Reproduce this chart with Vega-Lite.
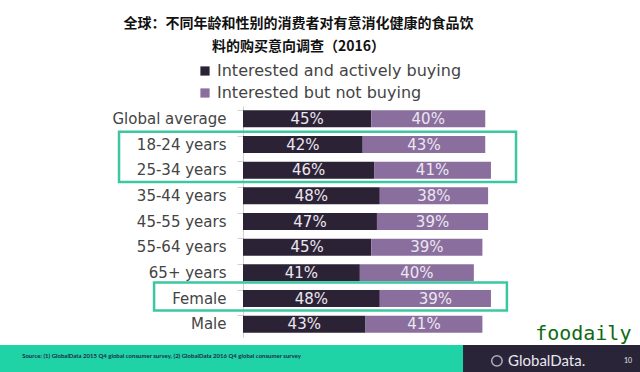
{
  "$schema": "https://vega.github.io/schema/vega-lite/v6.json",
  "autosize": {"type": "none"},
  "width": 285,
  "height": 231,
  "padding": {"left": 243, "top": 106, "right": 112, "bottom": 35},
  "background": "white",
  "config": {"view": {"stroke": null}, "font": "DejaVu Sans"},
  "title": {
    "text": ["全球：不同年龄和性别的消费者对有意消化健康的食品饮", "料的购买意向调查（2016）"],
    "font": "Noto Sans CJK SC",
    "fontSize": 14,
    "fontWeight": "bold",
    "color": "#111111",
    "anchor": "middle",
    "frame": "group",
    "dx": -87,
    "dy": 1,
    "lineHeight": 23,
    "offset": 10
  },
  "datasets": {
    "bars": [
      {"group": "Global average", "series": "Interested and actively buying", "rank": 1, "value": 45},
      {"group": "Global average", "series": "Interested but not buying", "rank": 2, "value": 40},
      {"group": "18-24 years", "series": "Interested and actively buying", "rank": 1, "value": 42},
      {"group": "18-24 years", "series": "Interested but not buying", "rank": 2, "value": 43},
      {"group": "25-34 years", "series": "Interested and actively buying", "rank": 1, "value": 46},
      {"group": "25-34 years", "series": "Interested but not buying", "rank": 2, "value": 41},
      {"group": "35-44 years", "series": "Interested and actively buying", "rank": 1, "value": 48},
      {"group": "35-44 years", "series": "Interested but not buying", "rank": 2, "value": 38},
      {"group": "45-55 years", "series": "Interested and actively buying", "rank": 1, "value": 47},
      {"group": "45-55 years", "series": "Interested but not buying", "rank": 2, "value": 39},
      {"group": "55-64 years", "series": "Interested and actively buying", "rank": 1, "value": 45},
      {"group": "55-64 years", "series": "Interested but not buying", "rank": 2, "value": 39},
      {"group": "65+ years", "series": "Interested and actively buying", "rank": 1, "value": 41},
      {"group": "65+ years", "series": "Interested but not buying", "rank": 2, "value": 40},
      {"group": "Female", "series": "Interested and actively buying", "rank": 1, "value": 48},
      {"group": "Female", "series": "Interested but not buying", "rank": 2, "value": 39},
      {"group": "Male", "series": "Interested and actively buying", "rank": 1, "value": 43},
      {"group": "Male", "series": "Interested but not buying", "rank": 2, "value": 41}
    ],
    "one": [{}]
  },
  "resolve": {"scale": {"y": "independent", "x": "shared"}, "axis": {"y": "independent"}},
  "layer": [
    {
      "data": {"name": "bars"},
      "transform": [
        {"stack": "value", "groupby": ["group"], "sort": [{"field": "rank", "order": "ascending"}], "as": ["x0", "x1"]}
      ],
      "layer": [
        {
          "mark": {"type": "bar"},
          "encoding": {
            "y": {
              "field": "group", "type": "nominal",
              "sort": ["Global average", "18-24 years", "25-34 years", "35-44 years", "45-55 years", "55-64 years", "65+ years", "Female", "Male"],
              "scale": {"paddingInner": 0.34, "paddingOuter": 0.17},
              "axis": {
                "title": null,
                "labelFont": "DejaVu Sans", "labelFontSize": 15, "labelColor": "#444444",
                "labelPadding": 11, "tickSize": 6, "tickColor": "#d0d0d0", "domainColor": "#d0d0d0",
                "bandPosition": 0, "domainWidth": 1
              }
            },
            "x": {"field": "x0", "type": "quantitative", "scale": {"domain": [0, 100], "nice": false}, "axis": null},
            "x2": {"field": "x1"},
            "color": {
              "field": "series", "type": "nominal",
              "scale": {"domain": ["Interested and actively buying", "Interested but not buying"], "range": ["#2b2335", "#8a6f9e"]},
              "legend": {
                "title": null, "orient": "none", "legendX": -46, "legendY": -43,
                "symbolType": "square", "symbolSize": 85, "symbolStrokeWidth": 0,
                "labelFont": "DejaVu Sans", "labelFontSize": 16, "labelColor": "#444444",
                "labelOffset": 4, "rowPadding": 6, "labelLimit": 400
              }
            }
          }
        },
        {
          "transform": [
            {"calculate": "(datum.x0 + datum.x1) / 2", "as": "xm"},
            {"calculate": "datum.value + '%'", "as": "label"}
          ],
          "mark": {"type": "text", "font": "DejaVu Sans", "fontSize": 15, "color": "#ece6f0", "baseline": "middle"},
          "encoding": {
            "y": {"field": "group", "type": "nominal", "sort": ["Global average", "18-24 years", "25-34 years", "35-44 years", "45-55 years", "55-64 years", "65+ years", "Female", "Male"]},
            "x": {"field": "xm", "type": "quantitative"},
            "text": {"field": "label"}
          }
        }
      ]
    },
    {
      "data": {"name": "one"},
      "mark": {"type": "rect", "fill": null, "stroke": "#3cc6a2", "strokeWidth": 2.5},
      "encoding": {
        "x": {"datum": -43.5, "type": "quantitative"},
        "x2": {"datum": 95.8},
        "y": {"datum": 1.0, "type": "quantitative", "scale": {"domain": [0, 9], "reverse": true, "nice": false, "zero": false}, "axis": null},
        "y2": {"datum": 2.96}
      }
    },
    {
      "data": {"name": "one"},
      "mark": {"type": "rect", "fill": null, "stroke": "#3cc6a2", "strokeWidth": 2.5},
      "encoding": {
        "x": {"datum": -31.2, "type": "quantitative"},
        "x2": {"datum": 92.6},
        "y": {"datum": 6.88, "type": "quantitative", "scale": {"domain": [0, 9], "reverse": true, "nice": false, "zero": false}, "axis": null},
        "y2": {"datum": 7.97}
      }
    },
    {
      "data": {"name": "one"},
      "mark": {"type": "rect", "fill": "#20d3a6"},
      "encoding": {
        "x": {"datum": -90, "type": "quantitative"},
        "x2": {"datum": 77.2},
        "y": {"datum": 9.31, "type": "quantitative", "scale": {"domain": [0, 9], "reverse": true, "nice": false, "zero": false}, "axis": null},
        "y2": {"datum": 10.5}
      }
    },
    {
      "data": {"name": "one"},
      "mark": {"type": "rect", "fill": "#2a2438"},
      "encoding": {
        "x": {"datum": 77.2, "type": "quantitative"},
        "x2": {"datum": 145},
        "y": {"datum": 9.31, "type": "quantitative", "scale": {"domain": [0, 9], "reverse": true, "nice": false, "zero": false}, "axis": null},
        "y2": {"datum": 10.5}
      }
    },
    {
      "data": {"name": "one"},
      "mark": {"type": "text", "text": "Source: (1) GlobalData 2015 Q4 global consumer survey, (2) GlobalData 2016 Q4 global consumer survey", "font": "Lato", "fontSize": 6, "fontWeight": "bold", "color": "#1d2b4a", "align": "left", "baseline": "middle"},
      "encoding": {
        "x": {"datum": -77.5, "type": "quantitative"},
        "y": {"datum": 9.74, "type": "quantitative", "scale": {"domain": [0, 9], "reverse": true, "nice": false, "zero": false}, "axis": null}
      }
    },
    {
      "data": {"name": "one"},
      "mark": {"type": "text", "text": "GlobalData.", "font": "Lato", "fontSize": 15, "color": "#e8e8f0", "align": "left", "baseline": "middle"},
      "encoding": {
        "x": {"datum": 93.0, "type": "quantitative"},
        "y": {"datum": 9.93, "type": "quantitative", "scale": {"domain": [0, 9], "reverse": true, "nice": false, "zero": false}, "axis": null}
      }
    },
    {
      "data": {"name": "one"},
      "mark": {"type": "point", "shape": "circle", "filled": false, "stroke": "#e8e8f0", "strokeWidth": 1.5, "size": 110},
      "encoding": {
        "x": {"datum": 89.1, "type": "quantitative"},
        "y": {"datum": 9.93, "type": "quantitative", "scale": {"domain": [0, 9], "reverse": true, "nice": false, "zero": false}, "axis": null}
      }
    },
    {
      "data": {"name": "one"},
      "mark": {"type": "text", "text": "10", "font": "Lato", "fontSize": 7, "color": "#e8e8f0", "align": "center", "baseline": "middle"},
      "encoding": {
        "x": {"datum": 135.1, "type": "quantitative"},
        "y": {"datum": 9.93, "type": "quantitative", "scale": {"domain": [0, 9], "reverse": true, "nice": false, "zero": false}, "axis": null}
      }
    },
    {
      "data": {"name": "one"},
      "mark": {"type": "text", "text": "foodaily", "font": "DejaVu Sans Mono", "fontSize": 20, "color": "#0e6a12", "align": "left", "baseline": "middle"},
      "encoding": {
        "x": {"datum": 102.5, "type": "quantitative"},
        "y": {"datum": 8.88, "type": "quantitative", "scale": {"domain": [0, 9], "reverse": true, "nice": false, "zero": false}, "axis": null}
      }
    }
  ]
}
